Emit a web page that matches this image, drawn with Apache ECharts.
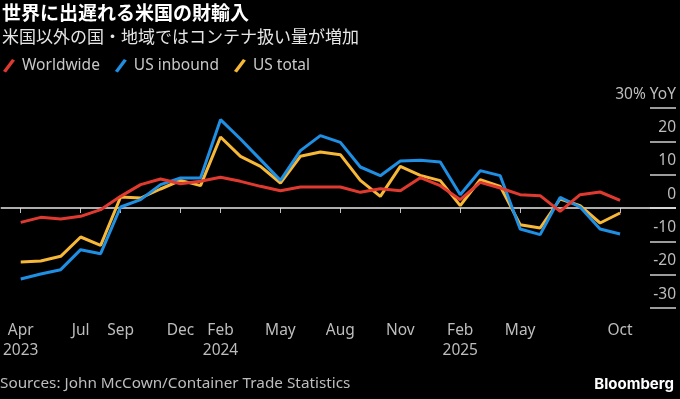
<!DOCTYPE html>
<html>
<head>
<meta charset="utf-8">
<script src="https://cdn.jsdelivr.net/npm/echarts@6/dist/echarts.min.js"></script>
<style>
  html, body { margin: 0; padding: 0; background: #000; }
  #chart { width: 680px; height: 399px; }
</style>
</head>
<body>
<div id="chart"></div>
<script>
// months Apr 2023 .. Oct 2025 (index 0..30), YoY %
var worldwide = [-4.3, -2.8, -3.3, -2.5, -0.5, 3.5, 7, 8.7, 7.3, 8, 9.2, 8, 6.5, 5.2, 6.3, 6.3, 6.3, 4.7, 5.8, 5.2, 9.1, 6.7, 2.5, 7.7, 6, 4, 3.7, -1, 4, 4.8, 2.3]
var usInbound = [-21.3, -19.8, -18.5, -12.5, -13.7, 0.3, 2.5, 7, 9, 9, 26.5, 20.7, 14.5, 8.3, 17.2, 21.7, 19.7, 12.3, 9.7, 14.1, 14.3, 13.8, 4, 11.2, 9.7, -6.3, -8, 3.2, 0.3, -6.3, -7.8]
var usTotal = [-16.2, -15.9, -14.5, -8.7, -11.2, 3.3, 3, 5.7, 8.3, 6.7, 21.3, 15.5, 12.5, 7.5, 15.5, 16.8, 16, 8.3, 3.5, 12.5, 9.8, 8.2, 0.7, 8.5, 6.5, -5, -6, 2.7, 0.7, -4.5, -1.5]

// x tick positions (month index) and labels
var tickIdx = [0, 3, 5, 8, 10, 13, 16, 19, 22, 25, 30]
var tickLabels = ['Apr\n2023', 'Jul', 'Sep', 'Dec', 'Feb\n2024', 'May', 'Aug', 'Nov', 'Feb\n2025', 'May', 'Oct']

var latin = '"Noto Sans", "Noto Sans CJK JP", sans-serif'
var cjk = '"Noto Sans CJK JP", sans-serif'
var slash = 'path://M0,12 L9,0 L12,1.5 L3,13.5 Z'

function pairs(arr) {
    return arr.map(function (v, i) { return [i, v] })
}

var myChart = echarts.init(document.getElementById('chart'))
var option = {
    backgroundColor: '#000',
    animation: false,
    title: {
        text: '世界に出遅れる米国の財輸入',
        subtext: '米国以外の国・地域ではコンテナ扱い量が増加',
        left: 0,
        top: 1,
        padding: [0, 0, 0, 2],
        itemGap: 1,
        textStyle: { color: '#fff', fontSize: 19, fontWeight: 'bold', fontFamily: cjk, lineHeight: 24 },
        subtextStyle: { color: '#e6e6e6', fontSize: 17, fontFamily: cjk, lineHeight: 22 }
    },
    legend: {
        left: 3,
        top: 58,
        padding: 0,
        itemWidth: 12,
        itemHeight: 14,
        itemGap: 15,
        icon: slash,
        textStyle: { color: '#c8c8c8', fontSize: 15.5, fontFamily: latin, padding: [0, 0, 0, 2] },
        data: ['Worldwide', 'US inbound', 'US total']
    },
    grid: [
        { left: 0, right: 4, top: 108, bottom: 91 },
        // narrow strip on the right that carries the short gridline stubs
        { left: 650, right: 4, top: 108, bottom: 91 }
    ],
    xAxis: [
        {
            type: 'value',
            min: -1,
            max: 32.8,
            splitLine: { show: false },
            axisLine: { show: false },
            axisTick: {
                show: true,
                customValues: tickIdx,
                length: 5,
                lineStyle: { color: '#bdbdbd', width: 1 }
            },
            axisLabel: {
                customValues: tickIdx,
                margin: 13,
                color: '#bdbdbd',
                fontSize: 15.5,
                fontFamily: latin,
                lineHeight: 20,
                formatter: function (v) {
                    var k = tickIdx.indexOf(v)
                    return k >= 0 ? tickLabels[k] : ''
                }
            }
        },
        { gridIndex: 1, type: 'value', show: false, min: 0, max: 1 }
    ],
    yAxis: [
        {
            type: 'value',
            position: 'right',
            min: -30,
            max: 30,
            interval: 10,
            splitLine: { show: false },
            axisLine: { show: false },
            axisTick: { show: false },
            axisLabel: {
                inside: true,
                margin: 0,
                color: '#bdbdbd',
                fontSize: 15.5,
                fontFamily: latin,
                verticalAlign: 'bottom',
                padding: [0, 0, 6, 0],
                formatter: function (v) {
                    return v === 30 ? '30% YoY' : String(v)
                }
            }
        },
        {
            gridIndex: 1,
            type: 'value',
            min: -30,
            max: 30,
            interval: 10,
            axisLine: { show: false },
            axisTick: { show: false },
            axisLabel: { show: false },
            splitLine: { show: true, lineStyle: { color: '#d0d0d0', width: 1.5 } }
        }
    ],
    series: [
        {
            name: 'Worldwide',
            type: 'line',
            z: 4,
            symbol: 'none',
            color: '#e03a30',
            lineStyle: { width: 3 },
            data: pairs(worldwide),
            markLine: {
                silent: true,
                symbol: 'none',
                label: { show: false },
                lineStyle: { color: '#e8e8e8', width: 1.5, type: 'solid' },
                data: [{ yAxis: 0 }],
                z: 1
            }
        },
        {
            name: 'US inbound',
            type: 'line',
            z: 3,
            symbol: 'none',
            color: '#1e8fe3',
            lineStyle: { width: 3 },
            data: pairs(usInbound)
        },
        {
            name: 'US total',
            type: 'line',
            z: 2,
            symbol: 'none',
            color: '#f7b838',
            lineStyle: { width: 3 },
            data: pairs(usTotal)
        }
    ],
    graphic: [
        {
            type: 'text',
            left: 0,
            top: 376,
            style: { text: 'Sources: John McCown/Container Trade Statistics', fill: '#bdbdbd', fontSize: 15.3, fontFamily: latin }
        },
        {
            type: 'text',
            right: 6,
            top: 377,
            style: { text: 'Bloomberg', fill: '#fff', fontSize: 15, fontWeight: 'bold', fontFamily: 'Inter, Roboto, sans-serif' }
        }
    ]
}
myChart.setOption(option)

window.addEventListener('resize', function () {
    myChart.resize()
})
</script>
</body>
</html>
